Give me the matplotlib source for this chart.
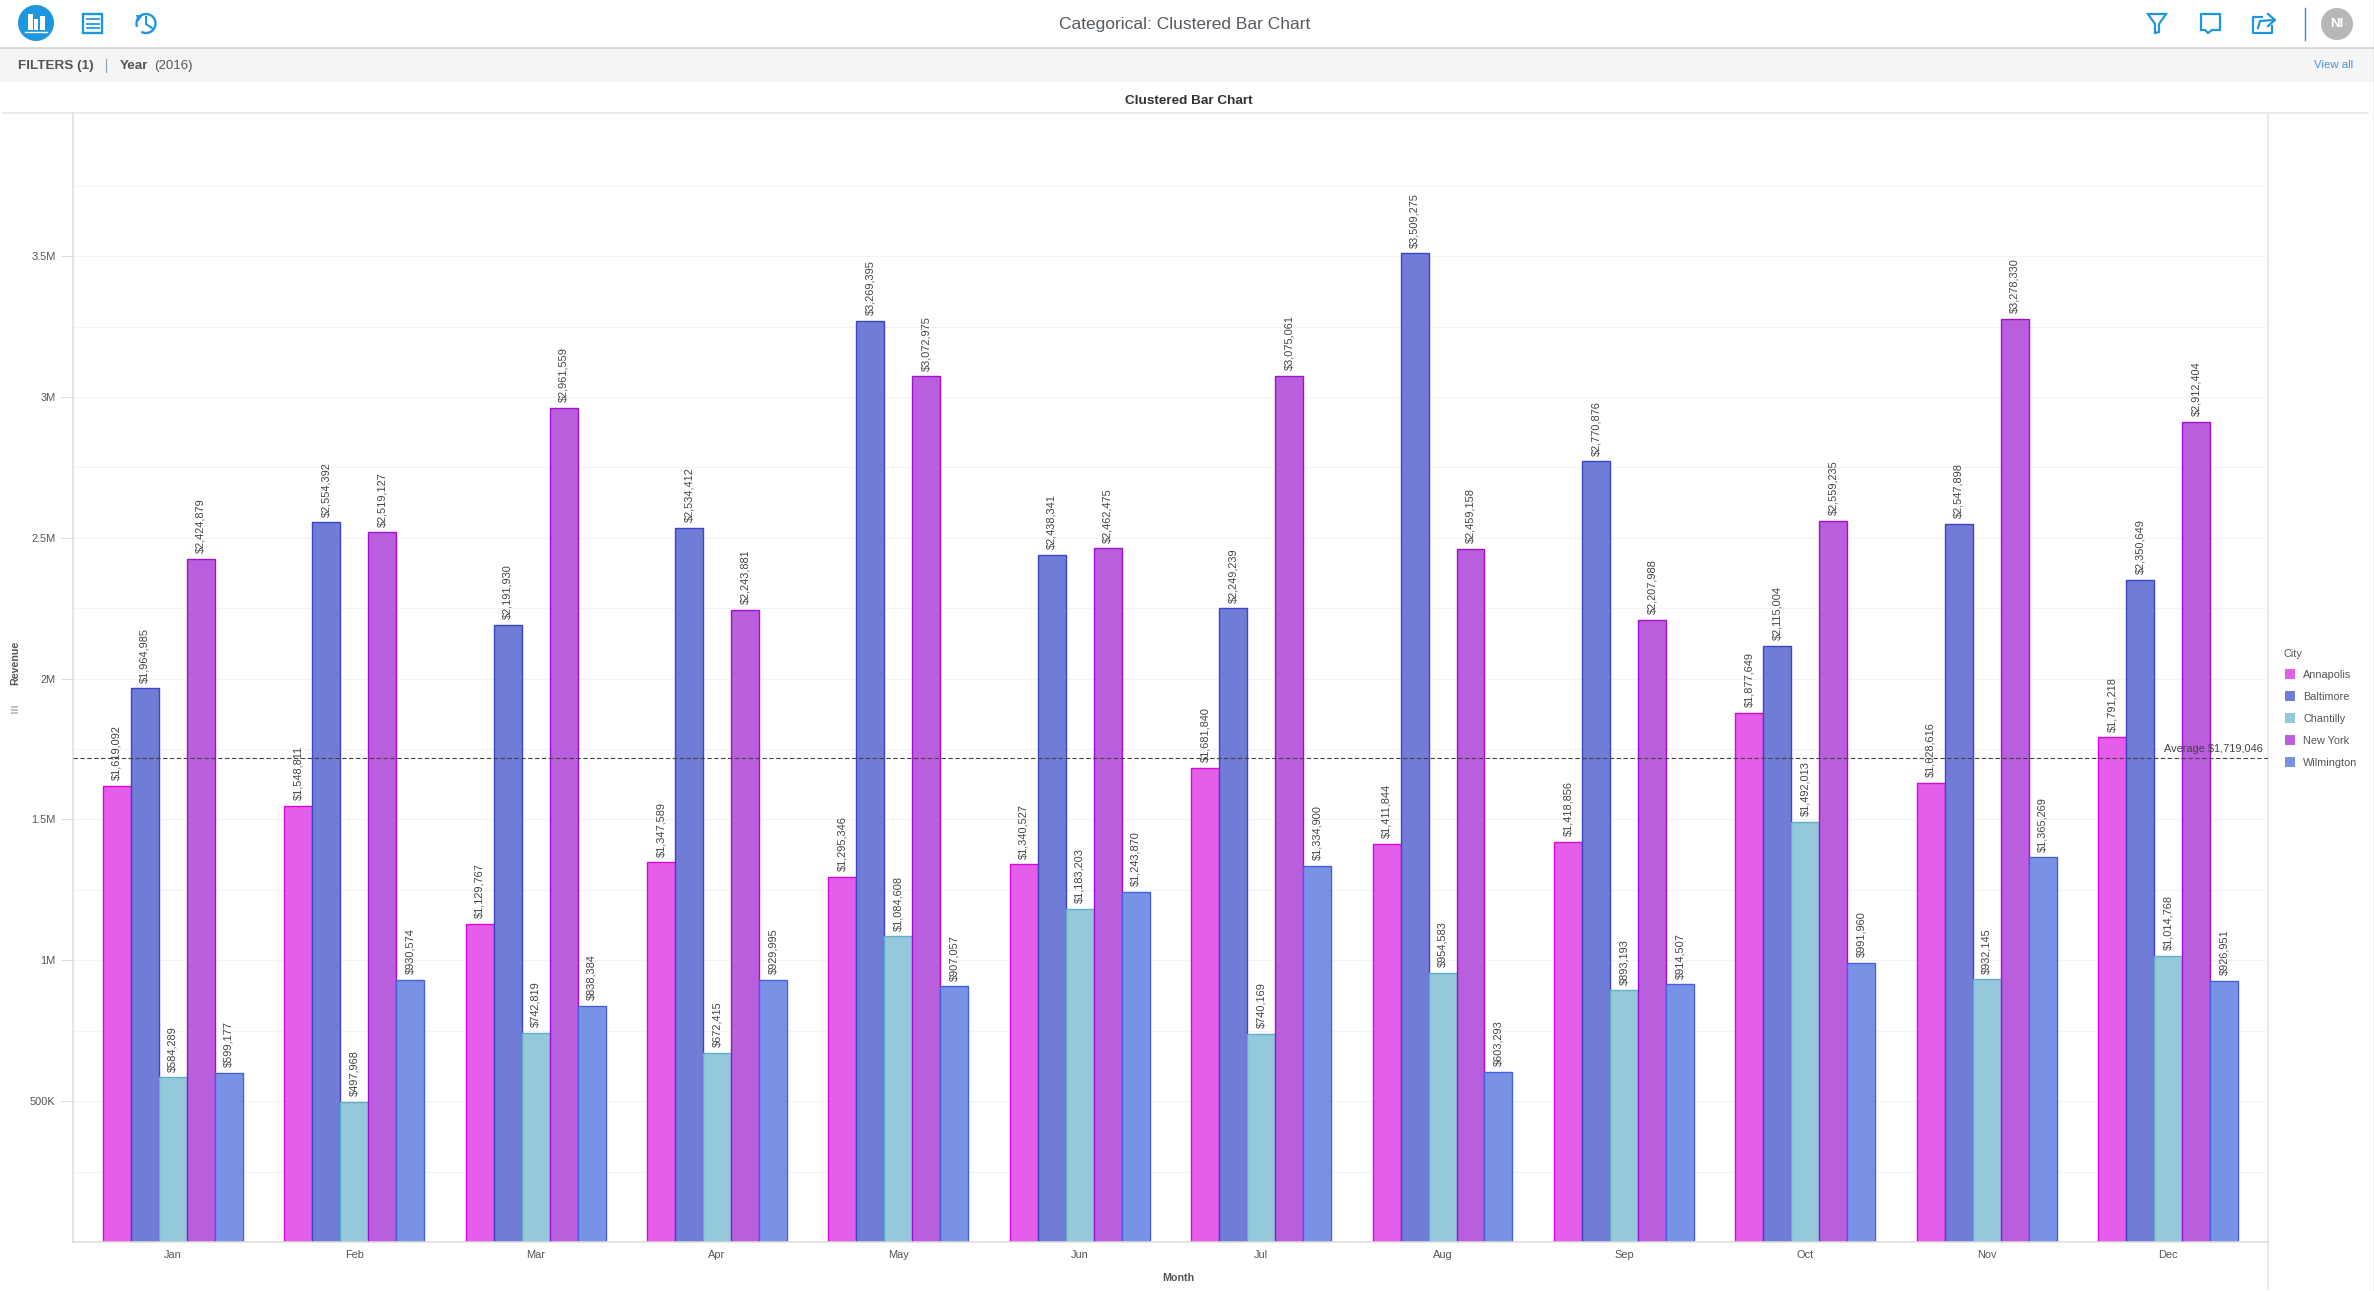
"""Clustered bar chart of monthly revenue per city, inside the dashboard chrome."""
import matplotlib

matplotlib.use("Agg")
import matplotlib.pyplot as plt
import numpy as np
from matplotlib.patches import Arc, Circle, Polygon, Rectangle

plt.rcParams["font.family"] = ["Liberation Sans", "DejaVu Sans"]

MONTHS = ["Jan", "Feb", "Mar", "Apr", "May", "Jun", "Jul", "Aug", "Sep", "Oct", "Nov", "Dec"]
CITIES = ["Annapolis", "Baltimore", "Chantilly", "New York", "Wilmington"]

annapolis = [1619092, 1548811, 1129767, 1347589, 1295346, 1340527,
             1681840, 1411844, 1418856, 1877649, 1628616, 1791218]
baltimore = [1964985, 2554392, 2191930, 2534412, 3269395, 2438341,
             2249239, 3509275, 2770876, 2115004, 2547898, 2350649]
chantilly = [584289, 497968, 742819, 672415, 1084608, 1183203,
             740169, 954583, 893193, 1492013, 932145, 1014768]
new_york = [2424879, 2519127, 2961559, 2243881, 3072975, 2462475,
            3075061, 2459158, 2207988, 2559235, 3278330, 2912404]
wilmington = [599177, 930574, 838384, 929995, 907057, 1243870,
              1334900, 603293, 914507, 991960, 1365269, 926951]
SERIES = [annapolis, baltimore, chantilly, new_york, wilmington]

AVERAGE = 1719046
Y_TICKS = [500000, 1000000, 1500000, 2000000, 2500000, 3000000, 3500000]
Y_LABELS = ["500K", "1M", "1.5M", "2M", "2.5M", "3M", "3.5M"]
Y_MINOR = [250000, 750000, 1250000, 1750000, 2250000, 2750000, 3250000, 3750000]

FILLS = ["#e55ee9", "#707cd6", "#94c8db", "#b95edc", "#7a92e5"]
EDGES = ["#d808d8", "#3a46c8", "#62b0c8", "#a010d0", "#4462e0"]

W, H = 2374, 1291
BLUE = "#1f97e0"
TEXT = "#555555"

fig = plt.figure(figsize=(W / 100, H / 100), dpi=100, facecolor="white")

# page chrome, in pixel coordinates
ui = fig.add_axes([0, 0, 1, 1])
ui.set_xlim(0, W)
ui.set_ylim(H, 0)
ui.axis("off")

ui.add_patch(Rectangle((0, 48), W, 34, fc="#f5f5f5", ec="none"))
ui.plot([0, W], [47.5, 47.5], color="#cfcfcf", lw=1.1)
ui.plot([3, 2368], [113, 113], color="#e4e4e4", lw=1.1)
ui.plot([2268, 2268], [113, 1289], color="#e4e4e4", lw=1.1)
ui.plot([2373.5, 2373.5], [0, H], color="#111111", lw=0.8)

# chart icon
ui.add_patch(Circle((36, 23), 18, fc=BLUE, ec="none"))
for x, y, w, h in [(27.5, 14, 5.5, 16), (34, 19, 4, 11), (39.5, 16, 5.5, 14)]:
    ui.add_patch(Rectangle((x, y), w, h, fc="white", ec="none"))
ui.plot([25, 47], [32, 32], color="white", lw=1.0)

# list icon
ui.add_patch(Rectangle((83, 14), 19, 19, fc="none", ec=BLUE, lw=1.7))
for y in (19, 23.5, 28):
    ui.plot([86.5, 88], [y, y], color=BLUE, lw=1.3)
    ui.plot([90, 99], [y, y], color=BLUE, lw=1.3)

# history icon
ui.add_patch(Arc((146, 23.5), 19, 19, theta1=-200, theta2=120, ec=BLUE, lw=1.7))
ui.add_patch(Polygon([[136, 15], [143, 15], [138, 22]], fc=BLUE, ec="none"))
ui.plot([146, 146, 152], [17, 24, 28], color=BLUE, lw=1.5)

# right-hand icons
ui.add_patch(Polygon([[2148, 14], [2166, 14], [2159, 24], [2159, 32], [2155, 33], [2155, 24]],
                     fc="none", ec=BLUE, lw=1.6))
ui.add_patch(Polygon([[2201, 14], [2220, 14], [2220, 30], [2212, 30], [2208, 33], [2205, 30], [2201, 30]],
                     fc="none", ec=BLUE, lw=1.6))
ui.plot([2262, 2253, 2253, 2272, 2272], [17, 17, 33, 33, 26], color=BLUE, lw=1.6)
ui.plot([2258, 2260, 2274], [28, 21, 20], color=BLUE, lw=1.6)
ui.plot([2268, 2275, 2268], [14, 20, 26], color=BLUE, lw=1.6)
ui.plot([2304.5, 2304.5], [8, 40], color=BLUE, lw=1.0)
ui.add_patch(Circle((2337, 24), 16, fc="#b7b7b7", ec="none"))
ui.text(2337, 24, "NI", ha="center", va="center", color="white", fontsize=9.5, fontweight="bold")

# header and filter bar texts
ui.text(1185, 24, "Categorical: Clustered Bar Chart", ha="center", va="center", color="#555b63", fontsize=12.5)
ui.text(18, 66, "FILTERS (1)", va="center", color=TEXT, fontsize=9.7, fontweight="bold")
ui.plot([106, 106], [59, 72], color="#8aa0b0", lw=0.8)
ui.text(120, 66, "Year", va="center", color=TEXT, fontsize=9.7, fontweight="bold")
ui.text(154, 66, "(2016)", va="center", color=TEXT, fontsize=9.5)
ui.text(2353, 64.5, "View all", ha="right", va="center", color="#4a90d9", fontsize=8.2)

ui.text(1189, 101, "Clustered Bar Chart", ha="center", va="center", color="#333333", fontsize=9.7, fontweight="bold")
ui.text(15, 663, "Revenue", rotation=90, ha="center", va="center", color=TEXT, fontsize=7.7, fontweight="bold")
ui.add_patch(Rectangle((11, 706), 7, 2, fc="#c4c4c4", ec="none"))
ui.add_patch(Rectangle((11, 709), 7, 2, fc="#c4c4c4", ec="none"))
ui.add_patch(Rectangle((11, 712), 7, 1.5, fc="#c4c4c4", ec="none"))
ui.text(1178, 1278, "Month", ha="center", va="center", color=TEXT, fontsize=7.7, fontweight="bold")

# legend
ui.text(2284, 654, "City", va="center", color=TEXT, fontsize=7.8)
for i, city in enumerate(CITIES):
    y = 673.5 + 22 * i
    ui.add_patch(Rectangle((2285, y - 5), 10, 10, fc=FILLS[i], ec="none"))
    ui.text(2303, y + 2, city, va="center", color=TEXT, fontsize=7.8)

# the chart itself
ax = fig.add_axes([72.5 / W, 1 - 1242 / H, (2268 - 72.5) / W, (1242 - 113) / H])
ax.patch.set_alpha(0)

x = np.arange(len(MONTHS))
bar_w = 0.1543
for i, (vals, city) in enumerate(zip(SERIES, CITIES)):
    pos = x + (i - 2) * bar_w
    ax.bar(pos, vals, width=bar_w, color=FILLS[i], edgecolor=EDGES[i], linewidth=1.0, label=city, zorder=2)
    for px, v in zip(pos, vals):
        ax.annotate(f"${v:,}", (px, v), xytext=(0, 4.2), textcoords="offset points",
                    rotation=90, ha="center", va="bottom", fontsize=7.9, color="#444444", zorder=4)

ax.axhline(AVERAGE, color="#444444", lw=0.8, ls=(0, (4, 2.2)), zorder=3)
ax.annotate(f"Average ${AVERAGE:,}", (1, AVERAGE), xycoords=("axes fraction", "data"),
            xytext=(-4, 2.5), textcoords="offset points", ha="right", va="bottom",
            fontsize=7.9, color="#444444", zorder=4)

ax.set_xlim(-0.553, 11.551)
ax.set_ylim(0, 4008000)
ax.set_xticks(x)
ax.set_xticklabels(MONTHS)
ax.set_yticks(Y_TICKS)
ax.set_yticklabels(Y_LABELS)
ax.set_yticks(Y_MINOR, minor=True)
ax.tick_params(axis="x", length=0, pad=6, labelsize=7.9, labelcolor=TEXT)
ax.tick_params(axis="y", which="major", length=8.6, width=0.8, color="#dddddd", pad=3.6,
               labelsize=7.9, labelcolor=TEXT)
ax.tick_params(axis="y", which="minor", length=0)
ax.grid(axis="y", which="both", color="#f3f3f3", lw=0.8, zorder=0)
ax.set_axisbelow(True)
for side in ("top", "right"):
    ax.spines[side].set_visible(False)
for side in ("left", "bottom"):
    ax.spines[side].set_color("#dddddd")
    ax.spines[side].set_linewidth(1.1)

fig.savefig("out.png", dpi=100)
